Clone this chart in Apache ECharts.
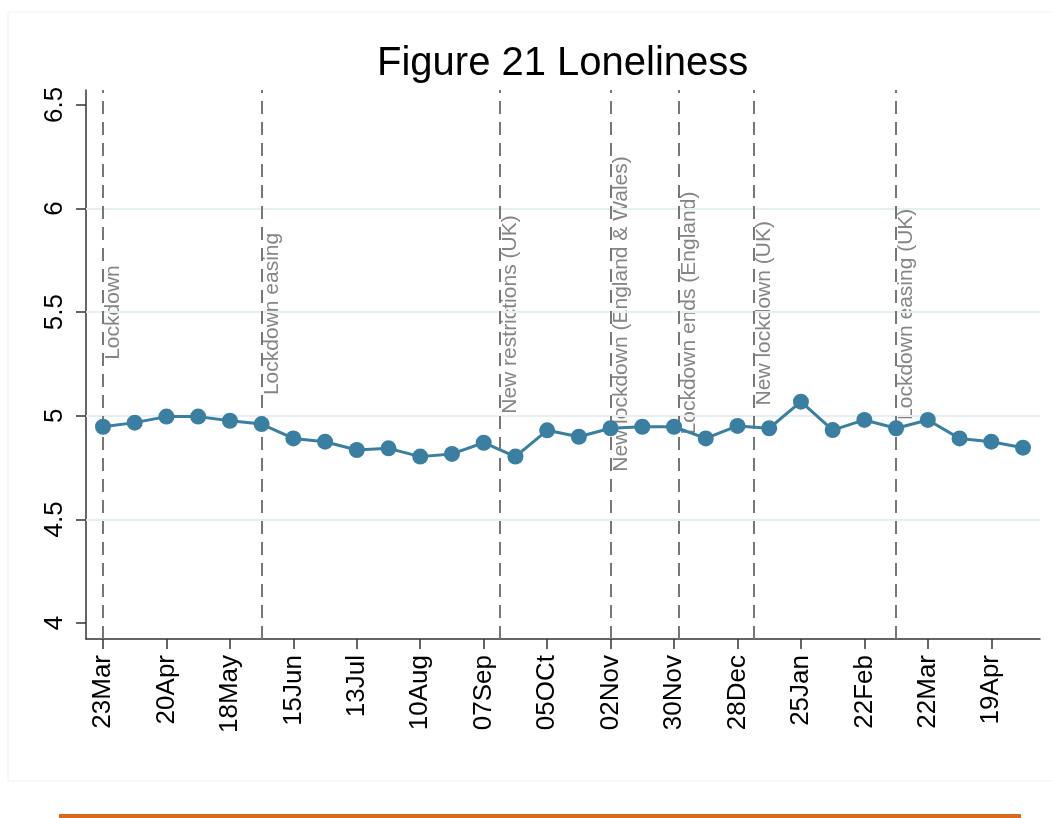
<!DOCTYPE html>
<html>
<head>
<meta charset="utf-8">
<script src="https://cdn.jsdelivr.net/npm/echarts@6/dist/echarts.min.js"></script>
<style>
    html, body { margin: 0; padding: 0; background: #fff; }
    #show_picture { width: 1052px; height: 818px; }
</style>
</head>
<body>
<div id="show_picture"></div>
<script>
// fortnightly survey waves
const dates = [
    '2020-03-23', '2020-04-06', '2020-04-20', '2020-05-04', '2020-05-18', '2020-06-01',
    '2020-06-15', '2020-06-29', '2020-07-13', '2020-07-27', '2020-08-10', '2020-08-24',
    '2020-09-07', '2020-09-21', '2020-10-05', '2020-10-19', '2020-11-02', '2020-11-16',
    '2020-11-30', '2020-12-14', '2020-12-28', '2021-01-11', '2021-01-25', '2021-02-08',
    '2021-02-22', '2021-03-08', '2021-03-22', '2021-04-05', '2021-04-19', '2021-05-03'
];
const values = [
    4.947, 4.967, 4.996, 4.996, 4.976, 4.960,
    4.891, 4.875, 4.835, 4.843, 4.803, 4.816,
    4.870, 4.803, 4.930, 4.899, 4.940, 4.947,
    4.947, 4.891, 4.951, 4.940, 5.068, 4.931,
    4.980, 4.940, 4.980, 4.891, 4.875, 4.846
];
const tickDates = [
    '2020-03-23', '2020-04-20', '2020-05-18', '2020-06-15', '2020-07-13', '2020-08-10',
    '2020-09-07', '2020-10-05', '2020-11-02', '2020-11-30', '2020-12-28', '2021-01-25',
    '2021-02-22', '2021-03-22', '2021-04-19'
];
const tickLabels = [
    '23Mar', '20Apr', '18May', '15Jun', '13Jul', '10Aug', '07Sep', '05OCt',
    '02Nov', '30Nov', '28Dec', '25Jan', '22Feb', '22Mar', '19Apr'
];
const eventDates = ['2020-03-23', '2020-06-01', '2020-09-14', '2020-11-02', '2020-12-02', '2021-01-04', '2021-03-08'];
const eventNames = [
    'Lockdown', 'Lockdown easing', 'New restrictions (UK)', 'New lockdown (England & Wales)',
    'Lockdown ends (England)', 'New lockdown (UK)', 'Lockdown easing (UK)'
];
const eventLabelY = [5.27, 5.10, 5.01, 4.73, 4.91, 5.05, 4.98];
const yTicks = [4, 4.5, 5, 5.5, 6, 6.5];
const gridVals = [4.5, 5, 5.5, 6];

const FONT = 'Liberation Sans, Arial, sans-serif';
const start = Date.parse(dates[0]);
const day = d => (Date.parse(d) - start) / 86400000;

let show_picture = document.getElementById('show_picture');
let myChart = echarts.init(show_picture);

const tickDays = tickDates.map(day);
const lineData = dates.map((d, i) => [day(d), values[i]]);

let option = {
    animation: false,
    backgroundColor: '#fff',
    title: {
        text: 'Figure 21 Loneliness',
        left: 372,
        top: 39,
        textStyle: { color: '#000', fontSize: 40, fontWeight: 'normal', fontFamily: FONT }
    },
    graphic: [
        {
            type: 'rect', silent: true,
            shape: { x: 8, y: 12, width: 1060, height: 769 },
            style: { fill: 'none', stroke: '#f1f1f1', lineWidth: 1 }
        },
        {
            type: 'rect', silent: true,
            shape: { x: 59, y: 814, width: 962, height: 4 },
            style: { fill: '#d8691f' }
        }
    ],
    grid: { left: 86, right: 12, top: 90, bottom: 179, outerBoundsMode: 'none' },
    xAxis: {
        type: 'value',
        min: -7.5,
        max: 413.5,
        axisLine: { onZero: false, lineStyle: { color: '#333', width: 1.5 } },
        axisTick: { customValues: tickDays, length: 10, lineStyle: { color: '#333', width: 1.5 } },
        axisLabel: {
            customValues: tickDays,
            rotate: 90,
            margin: 16,
            fontSize: 26,
            color: '#000',
            fontFamily: FONT,
            formatter: v => tickLabels[tickDays.indexOf(v)]
        },
        splitLine: { show: false }
    },
    yAxis: {
        type: 'value',
        min: 3.923,
        max: 6.572,
        axisLine: { show: true, onZero: false, lineStyle: { color: '#333', width: 1.5 } },
        axisTick: { show: true, customValues: yTicks, length: 10, lineStyle: { color: '#333', width: 1.5 } },
        axisLabel: {
            customValues: yTicks,
            rotate: 90,
            margin: 18,
            fontSize: 26,
            color: '#000',
            fontFamily: FONT
        },
        splitLine: { show: false }
    },
    series: [
        {
            type: 'line',
            data: lineData,
            symbol: 'circle',
            symbolSize: 16,
            z: 5,
            lineStyle: { color: '#3a7fa1', width: 3 },
            itemStyle: { color: '#3a7fa1' },
            markLine: {
                silent: true,
                symbol: 'none',
                animation: false,
                label: { show: false },
                data: gridVals.map(v => ({
                    yAxis: v,
                    lineStyle: { color: '#e6eff2', width: 2, type: 'solid' }
                })).concat(eventDates.map(d => ({
                    xAxis: day(d),
                    lineStyle: { color: '#777', width: 2, type: [13, 8] }
                })))
            }
        },
        {
            type: 'scatter',
            silent: true,
            symbolSize: 1,
            z: 4,
            itemStyle: { color: 'rgba(0,0,0,0)' },
            data: eventDates.map((d, i) => ({ value: [day(d), eventLabelY[i]], name: eventNames[i] })),
            label: {
                show: true,
                position: 'inside',
                rotate: 90,
                align: 'left',
                verticalAlign: 'top',
                fontSize: 21,
                color: '#666',
                fontFamily: FONT,
                formatter: p => p.name
            }
        }
    ]
};

option && myChart.setOption(option);
</script>
</body>
</html>
